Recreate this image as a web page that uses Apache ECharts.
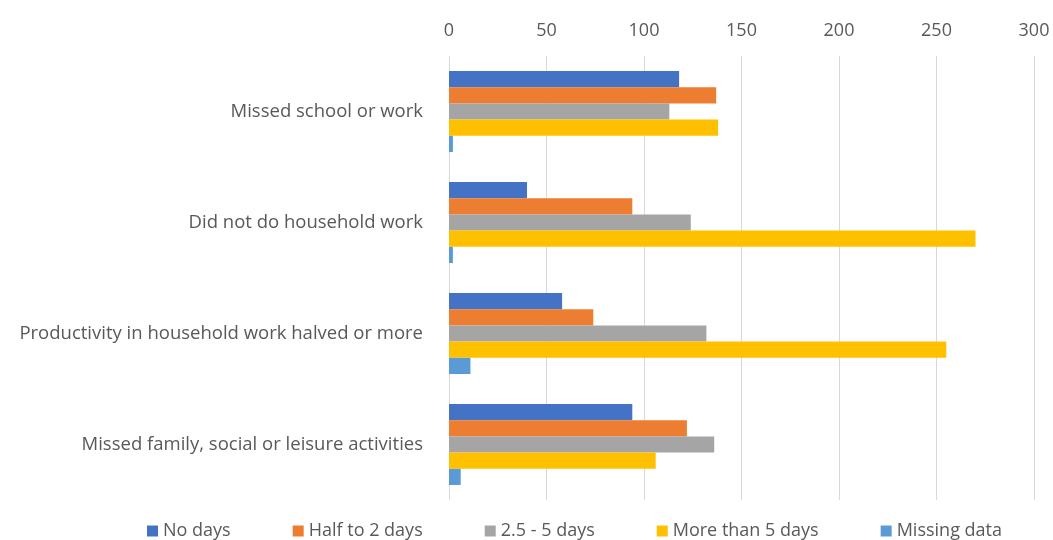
<!DOCTYPE html>
<html>
<head>
<meta charset="utf-8">
<script src="https://cdn.jsdelivr.net/npm/echarts@6/dist/echarts.min.js"></script>
<style>
  html, body { margin: 0; padding: 0; background: #fff; }
  #chart { width: 1053px; height: 540px; }
</style>
</head>
<body>
<div id="chart"></div>
<script>
// categories, top to bottom
const categories = [
  'Missed school or work',
  'Did not do household work',
  'Productivity in household work halved or more',
  'Missed family, social or leisure activities'
]
const seriesNames = ['No days', 'Half to 2 days', '2.5 - 5 days', 'More than 5 days', 'Missing data']
const noDays = [118, 40, 58, 94]
const halfTo2 = [137, 94, 74, 122]
const twoHalfTo5 = [113, 124, 132, 136]
const moreThan5 = [138, 270, 255, 106]
const missing = [2, 2, 11, 6]
const colors = ['#4472C4', '#ED7D31', '#A5A5A5', '#FFC000', '#5B9BD5']

const values = [noDays, halfTo2, twoHalfTo5, moreThan5, missing]
const textColor = '#595959'
const font = 'Open Sans'

let series = seriesNames.map((name, i) => ({
  name: name,
  type: 'bar',
  data: values[i],
  barGap: '0%',
  barCategoryGap: '27%',
  itemStyle: { color: colors[i] }
}))

let option = {
  animation: false,
  textStyle: { fontFamily: font },
  grid: { left: 449, right: 19, top: 56, bottom: 40 },
  legend: {
    bottom: -5,
    left: 142,
    itemWidth: 11,
    itemHeight: 11,
    itemGap: 62,
    icon: 'rect',
    textStyle: { color: textColor, fontSize: 18, fontFamily: font }
  },
  xAxis: {
    type: 'value',
    position: 'top',
    min: 0,
    max: 300,
    interval: 50,
    axisLine: { show: false },
    axisTick: { show: false },
    axisLabel: { color: textColor, fontSize: 18, margin: 16 },
    splitLine: { lineStyle: { color: '#d9d9d9', width: 1 } }
  },
  yAxis: {
    type: 'category',
    data: categories,
    inverse: true,
    axisLine: { show: false },
    axisTick: { show: false },
    axisLabel: { color: textColor, fontSize: 18.5, margin: 26 }
  },
  series: series
}

var myChart = echarts.init(document.getElementById('chart'))
myChart.setOption(option)
</script>
</body>
</html>
